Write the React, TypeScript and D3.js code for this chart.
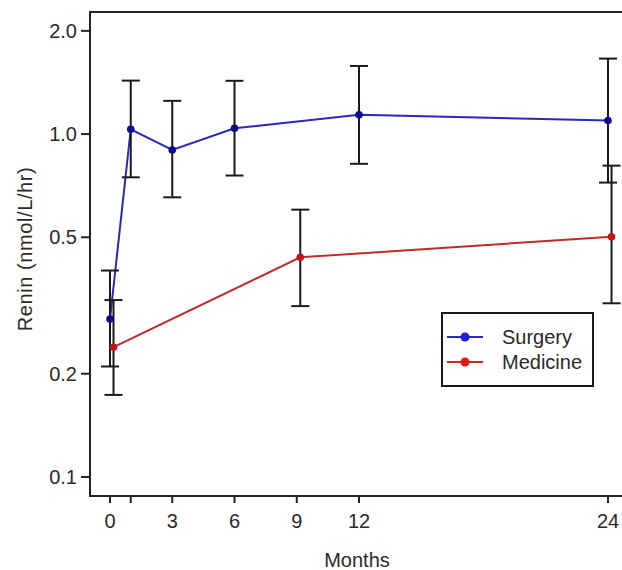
import React from "react";
import * as d3 from "d3";

// ---- data ----
const surgeryMonths = [0, 1, 3, 6, 12, 24];
const surgeryMean = [0.289, 1.033, 0.899, 1.04, 1.138, 1.095];
const surgeryUpper = [0.40, 1.432, 1.25, 1.43, 1.58, 1.66];
const surgeryLower = [0.21, 0.748, 0.654, 0.757, 0.819, 0.722];

const medicineMonths = [0, 9, 24];
const medicineMean = [0.239, 0.437, 0.502];
const medicineUpper = [0.328, 0.602, 0.809];
const medicineLower = [0.1735, 0.315, 0.321];

const xTicks = [0, 1, 3, 6, 9, 12, 24];
const xTickLabels = ["0", "", "3", "6", "9", "12", "24"];
const yTicks = [0.1, 0.2, 0.5, 1.0, 2.0];
const yTickLabels = ["0.1", "0.2", "0.5", "1.0", "2.0"];

const seriesNames = ["Surgery", "Medicine"];

// ---- layout ----
const W = 622;
const H = 570;
const left = 90;
const right = 624;
const top = 12;
const bottom = 496;
const FONT = "'Liberation Sans', Arial, sans-serif";

export default function App() {
  const x = d3.scaleLinear().domain([-0.964, 24.77]).range([left, right]);
  const y = d3.scaleLog().domain([0.088, 2.27]).range([bottom, top]);

  const dodge = 3.5;
  const capHalf = 9;

  const surgery = surgeryMonths.map((m, i) => ({
    m,
    v: surgeryMean[i],
    hi: surgeryUpper[i],
    lo: surgeryLower[i],
  }));
  const medicine = medicineMonths.map((m, i) => ({
    m,
    v: medicineMean[i],
    hi: medicineUpper[i],
    lo: medicineLower[i],
  }));

  const line = (off: number) =>
    d3
      .line<{ m: number; v: number }>()
      .x((d) => x(d.m) + off)
      .y((d) => y(d.v));

  const series = [
    { name: seriesNames[0], data: surgery, off: 0, line: "#2a2ab8", dot: "#0c0c8c", legDot: "#1f1fe0" },
    { name: seriesNames[1], data: medicine, off: dodge, line: "#c22a2a", dot: "#c41414", legDot: "#e01a1a" },
  ];

  const textColor = "#2a2a2a";

  return (
    <svg
      width={W}
      height={H}
      style={{ position: "absolute", left: 0, top: 0, background: "#fff" }}
      fontFamily={FONT}
    >
      <rect x={0} y={0} width={W} height={H} fill="#fff" />
      {/* frame */}
      <line x1={left} x2={right} y1={top} y2={top} stroke="#222" strokeWidth={2} />
      <line x1={left} x2={left} y1={top - 1} y2={bottom + 1} stroke="#222" strokeWidth={2} />
      <line x1={left - 1} x2={right} y1={bottom} y2={bottom} stroke="#222" strokeWidth={2} />

      {/* y ticks */}
      {yTicks.map((t, i) => (
        <g key={"yt" + i}>
          <line x1={left - 9} x2={left} y1={y(t)} y2={y(t)} stroke="#222" strokeWidth={2} />
          <text
            x={77}
            y={y(t)}
            dy="0.36em"
            textAnchor="end"
            fontSize={20}
            fill={textColor}
          >
            {yTickLabels[i]}
          </text>
        </g>
      ))}

      {/* x ticks */}
      {xTicks.map((t, i) => (
        <g key={"xt" + i}>
          <line x1={x(t)} x2={x(t)} y1={bottom} y2={bottom + 7} stroke="#222" strokeWidth={2} />
          <text x={x(t)} y={528} textAnchor="middle" fontSize={20} fill={textColor}>
            {xTickLabels[i]}
          </text>
        </g>
      ))}

      {/* axis titles */}
      <text x={357} y={567} textAnchor="middle" fontSize={20} fill={textColor}>
        Months
      </text>
      <text
        transform={`translate(32, 249) rotate(-90)`}
        textAnchor="middle"
        fontSize={20}
        letterSpacing={0.6}
        fill={textColor}
      >
        Renin (nmol/L/hr)
      </text>

      {/* lines */}
      {series.map((s) => (
        <path
          key={"l" + s.name}
          d={line(s.off)(s.data) || ""}
          fill="none"
          stroke={s.line}
          strokeWidth={2}
        />
      ))}

      {/* error bars */}
      {series.map((s) =>
        s.data.map((d, i) => {
          const cx = x(d.m) + s.off;
          return (
            <g key={"e" + s.name + i} stroke="#1a1a1a" strokeWidth={2}>
              <line x1={cx} x2={cx} y1={y(d.hi)} y2={y(d.lo)} />
              <line x1={cx - capHalf} x2={cx + capHalf} y1={y(d.hi)} y2={y(d.hi)} />
              <line x1={cx - capHalf} x2={cx + capHalf} y1={y(d.lo)} y2={y(d.lo)} />
            </g>
          );
        })
      )}

      {/* points */}
      {series.map((s) =>
        s.data.map((d, i) => (
          <circle
            key={"p" + s.name + i}
            cx={x(d.m) + s.off}
            cy={y(d.v)}
            r={3.8}
            fill={s.dot}
          />
        ))
      )}

      {/* legend */}
      <rect x={442} y={313} width={151} height={73} fill="#fff" stroke="#1a1a1a" strokeWidth={2} />
      {series.map((s, i) => {
        const ly = 337 + i * 25;
        return (
          <g key={"lg" + s.name}>
            <line x1={447} x2={483} y1={ly} y2={ly} stroke={s.line} strokeWidth={2} />
            <circle cx={465} cy={ly} r={4.5} fill={s.legDot} />
            <text x={502} y={ly} dy="0.36em" fontSize={20} fill={textColor}>
              {s.name}
            </text>
          </g>
        );
      })}
    </svg>
  );
}
